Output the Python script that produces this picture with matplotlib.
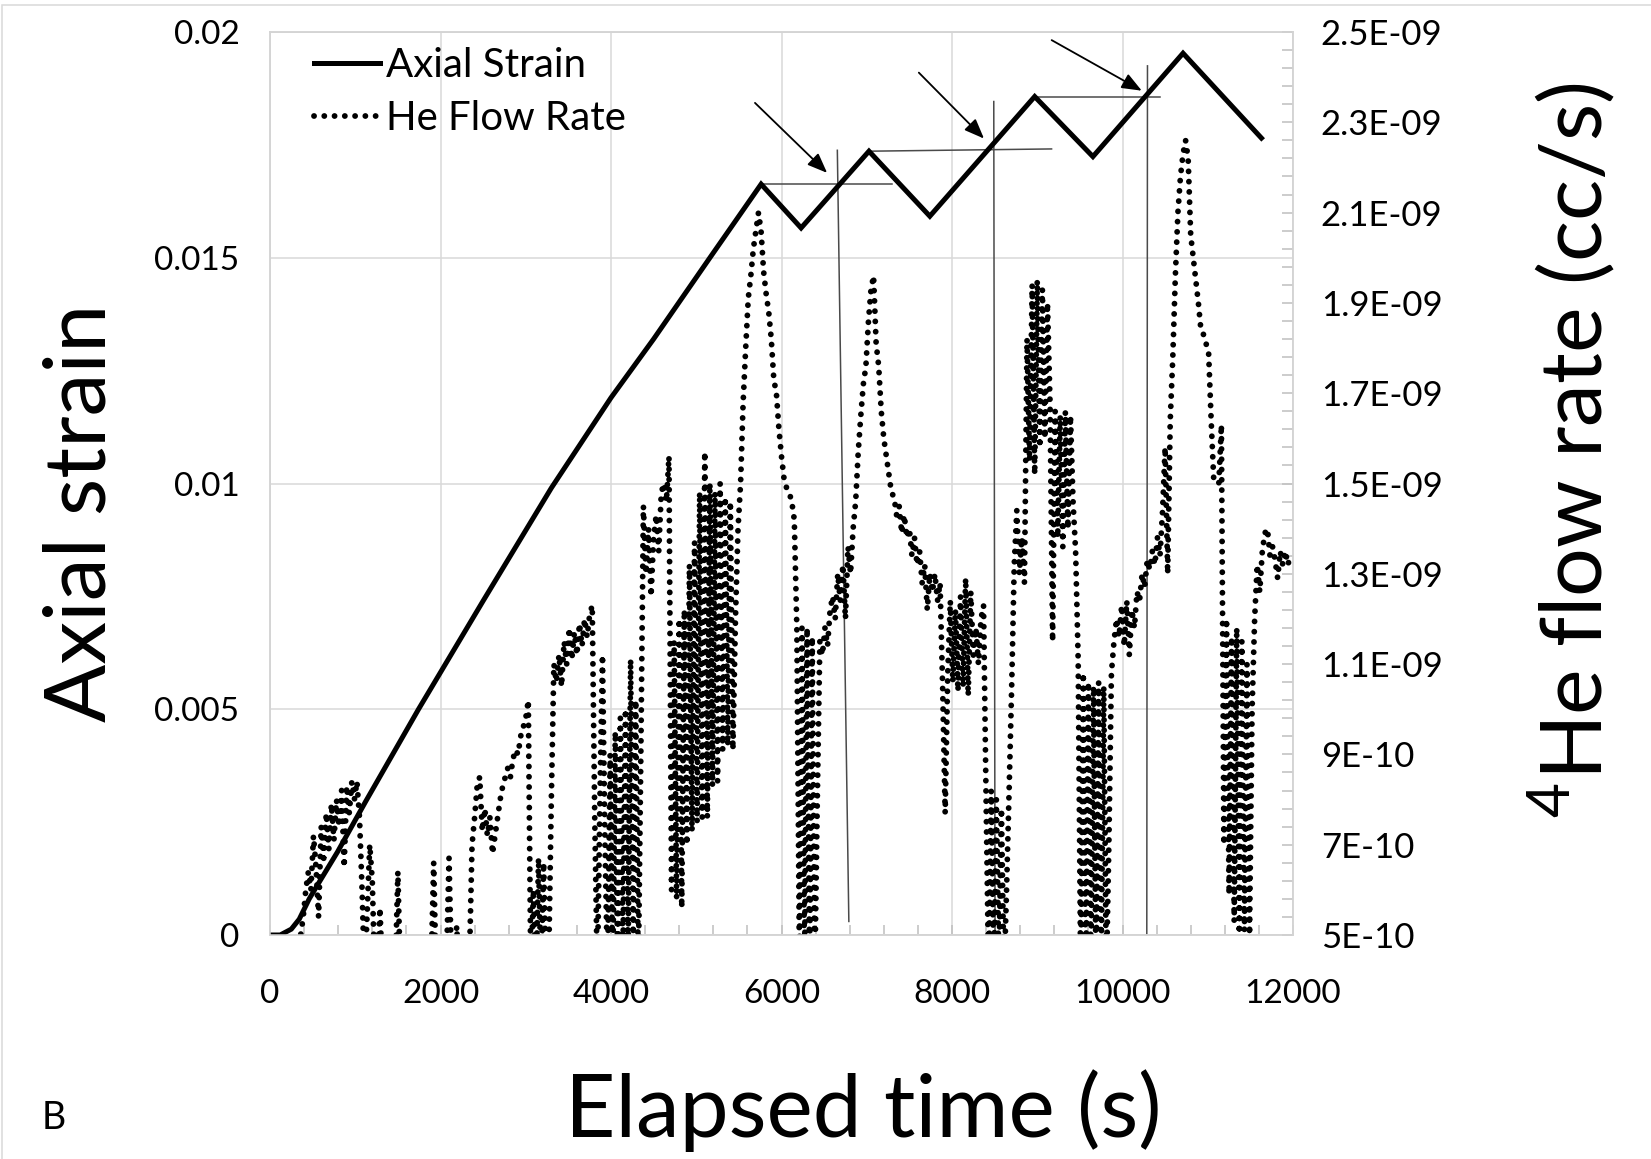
import numpy as np
import matplotlib
matplotlib.use("Agg")
import matplotlib.pyplot as plt
from matplotlib.ticker import FixedLocator, MultipleLocator
from matplotlib.lines import Line2D
from matplotlib.patches import Rectangle

plt.rcParams['font.family'] = ['Lato', 'DejaVu Sans']
plt.rcParams['mathtext.fontset'] = 'custom'
plt.rcParams['mathtext.rm'] = 'Lato'
plt.rcParams['path.simplify'] = False

# axial strain, read at the corners of the loading path
strain_time = [0, 120, 250, 343, 460, 577, 792, 1123, 1742, 2500, 3300, 4000, 4500,
               5160, 5761, 6230, 7026, 7740, 8970, 9653, 10710, 11630]
strain_value = [0, 0, 0.00013, 0.00035, 0.0008, 0.00117, 0.00184, 0.00296, 0.0050,
                0.0074, 0.0099, 0.0119, 0.0132, 0.0150, 0.01663, 0.01566, 0.01736,
                0.01592, 0.01857, 0.01724, 0.01953, 0.01765]

# 4He flow rate in units of 1E-10 cc/s, one reading every 30 s
he_step = 30
he_flow_e10 = [
    4.0, 4.0, 4.0, 4.0, 4.0, 4.0, 4.0, 4.0, 4.0, 4.0,
    4.0, 4.5, 5.0, 5.4, 6.0, 6.4, 6.0, 7.2, 6.5, 5.4,
    7.4, 6.7, 7.7, 6.9, 7.9, 7.1, 8.0, 7.4, 8.2, 6.5,
    8.3, 7.7, 8.4, 8.0, 8.4, 7.6, 6.0, 4.0, 5.5, 7.0,
    6.2, 4.0, 4.2, 5.6, 4.0, 4.0, 4.0, 4.0, 4.0, 4.2,
    6.4, 4.0, 4.0, 4.0, 4.0, 4.0, 4.0, 4.0, 4.0, 4.0,
    4.0, 4.0, 4.0, 4.3, 6.6, 4.0, 4.0, 4.0, 4.0, 4.4,
    6.7, 4.2, 4.0, 5.2, 4.0, 4.0, 4.0, 4.0, 4.5, 7.0,
    7.6, 8.3, 8.5, 7.3, 7.8, 7.2, 7.6, 6.8, 7.2, 7.6,
    8.0, 8.3, 8.5, 8.7, 8.5, 8.9, 9.1, 9.0, 9.4, 9.6,
    9.8, 10.2, 4.0, 6.0, 4.0, 6.7, 4.0, 6.6, 4.0, 4.5,
    8.0, 11.0, 10.6, 11.2, 10.5, 11.5, 11.0, 11.8, 11.1, 11.7,
    11.2, 11.9, 11.4, 12.0, 11.6, 12.1, 12.3, 7.5, 4.0, 8.0,
    11.2, 7.0, 4.0, 9.0, 4.0, 9.5, 4.0, 9.8, 4.5, 10.0,
    4.5, 11.1, 5.0, 10.2, 4.0, 9.0, 14.5, 13.0, 14.0, 12.5,
    13.8, 14.3, 13.5, 14.8, 15.0, 14.6, 15.6, 6.0, 11.5, 5.8,
    12.0, 5.6, 12.2, 7.0, 13.2, 7.3, 13.7, 7.5, 14.8, 7.6,
    15.7, 7.6, 15.0, 8.3, 14.8, 8.4, 15.0, 9.1, 14.7, 9.2,
    14.6, 9.1, 12.0, 14.0, 15.0, 16.8, 18.0, 19.1, 19.6, 20.2,
    20.6, 21.0, 20.6, 19.7, 19.2, 18.8, 18.2, 17.3, 17.0, 16.2,
    15.6, 15.1, 14.9, 14.8, 14.6, 14.2, 11.8, 4.5, 11.8, 4.0,
    11.8, 4.2, 11.6, 4.0, 8.0, 11.5, 11.2, 11.8, 11.4, 12.2,
    12.5, 12.0, 13.0, 12.4, 13.2, 12.0, 13.6, 13.0, 14.0, 14.6,
    15.7, 16.5, 17.2, 17.6, 18.6, 19.3, 19.6, 18.1, 17.6, 16.6,
    16.0, 15.6, 15.2, 14.8, 14.7, 14.3, 14.5, 13.9, 14.3, 13.8,
    14.0, 13.4, 13.8, 13.2, 13.5, 12.8, 13.2, 12.2, 13.0, 12.6,
    13.0, 12.4, 12.8, 10.5, 7.7, 10.8, 12.4, 10.6, 12.2, 10.4,
    12.5, 10.5, 12.9, 10.3, 12.6, 11.2, 11.8, 11.0, 12.0, 12.3,
    8.0, 4.0, 8.2, 4.0, 8.0, 4.2, 7.8, 4.0, 6.0, 8.2,
    10.5, 13.2, 14.4, 13.0, 13.8, 12.8, 18.2, 15.5, 19.4, 15.2,
    19.5, 15.8, 19.3, 16.0, 19.0, 16.8, 11.5, 16.6, 13.8, 16.5,
    13.6, 16.6, 14.0, 16.5, 14.6, 13.5, 11.1, 4.0, 10.8, 4.0,
    10.6, 4.2, 10.5, 4.0, 10.6, 4.2, 10.5, 4.0, 7.0, 10.8,
    11.5, 12.0, 11.6, 12.3, 11.4, 12.4, 11.2, 12.2, 11.8, 12.6,
    12.4, 13.0, 12.7, 13.3, 13.1, 13.5, 13.2, 13.8, 13.4, 14.4,
    15.8, 13.0, 16.4, 17.8, 19.6, 21.0, 21.8, 22.3, 22.6, 22.2,
    20.5, 20.0, 19.5, 19.0, 18.4, 18.3, 18.1, 17.9, 16.4, 15.1,
    15.1, 15.0, 16.3, 7.0, 12.0, 5.9, 11.6, 5.3, 11.8, 4.8,
    11.5, 5.1, 11.0, 5.0, 10.0, 12.0, 13.2, 12.6, 13.5, 13.9,
    14.0, 13.4, 13.6, 13.3, 12.9, 13.5, 13.2, 13.5, 13.2, 13.4,
]
he_time = np.arange(len(he_flow_e10)) * he_step
he_flow = np.array(he_flow_e10) * 1e-10

x_ticks = [0, 2000, 4000, 6000, 8000, 10000, 12000]
strain_ticks = [0, 0.005, 0.01, 0.015, 0.02]
strain_tick_labels = ['0', '0.005', '0.01', '0.015', '0.02']
flow_ticks = [5e-10, 7e-10, 9e-10, 1.1e-9, 1.3e-9, 1.5e-9, 1.7e-9, 1.9e-9, 2.1e-9, 2.3e-9, 2.5e-9]
flow_tick_labels = ['5E-10', '7E-10', '9E-10', '1.1E-09', '1.3E-09', '1.5E-09',
                    '1.7E-09', '1.9E-09', '2.1E-09', '2.3E-09', '2.5E-09']

# hand drawn marks: (time, strain) start and end
level_lines = [(5761, 0.01663, 7300, 0.01663), (7026, 0.01736, 9168, 0.01741),
               (8970, 0.01857, 10442, 0.01857)]
drop_lines = [(6655, 0.01738, 6790, 0.0003), (8490, 0.01846, 8505, 0.0),
              (10293, 0.01925, 10285, 0.0)]
arrows = [(5689, 0.01843, 6535, 0.01688), (7611, 0.0191, 8375, 0.01764),
          (9169, 0.01982, 10226, 0.0187)]

W, H = 1651, 1159
fig = plt.figure(figsize=(W / 100, H / 100), dpi=100)
ax = fig.add_axes([270 / W, 224 / H, 1023 / W, 903 / H])

grey = '#d4d4d4'
dots = (0, (0.01, 1.75))
ax.set_xlim(0, 12000)
ax.set_ylim(0, 0.02)
ax.grid(True, color='#d9d9d9', lw=1.1)
ax.set_axisbelow(True)
for sp in ax.spines.values():
    sp.set_color(grey)
    sp.set_linewidth(1.1)

ax.plot(strain_time, strain_value, color='black', lw=3.6, solid_joinstyle='miter', zorder=3)

for t0, s0, t1, s1 in level_lines + drop_lines:
    ax.plot([t0, t1], [s0, s1], color='#4a4a4a', lw=1.1, zorder=2)
for t0, s0, t1, s1 in arrows:
    ax.annotate('', xy=(t1, s1), xytext=(t0, s0),
                arrowprops=dict(arrowstyle='-|>,head_length=0.55,head_width=0.22',
                                color='black', lw=1.3, mutation_scale=22, shrinkA=0, shrinkB=0))

ax.set_xticks(x_ticks)
ax.set_xticklabels([str(v) for v in x_ticks])
ax.xaxis.set_minor_locator(MultipleLocator(400))
ax.set_yticks(strain_ticks)
ax.set_yticklabels(strain_tick_labels)
ax.tick_params(axis='x', which='both', direction='in', length=7.5, width=1.1, color='#bfbfbf')
ax.tick_params(axis='x', which='major', labelsize=24, pad=32)
ax.tick_params(axis='y', which='both', length=0, labelsize=24, pad=22)

ax2 = ax.twinx()
ax2.set_ylim(5e-10, 2.5e-9)
ax2.plot(he_time, he_flow, color='black', lw=4.2, linestyle=dots, dash_capstyle='round')
for sp in ax2.spines.values():
    sp.set_color(grey)
    sp.set_linewidth(1.1)
ax2.set_yticks(flow_ticks)
ax2.set_yticklabels(flow_tick_labels)
ax2.yaxis.set_minor_locator(FixedLocator(np.linspace(5e-10, 2.5e-9, 51)))
ax2.tick_params(axis='y', which='both', direction='in', length=8, width=1.1, color='#bfbfbf')
ax2.tick_params(axis='y', which='major', labelsize=25, pad=20)

handles = [Line2D([], [], color='black', lw=3.6),
           Line2D([], [], color='black', lw=4.2, linestyle=dots, dash_capstyle='round')]
ax2.legend(handles, ['Axial Strain', 'He Flow Rate'], loc='upper left',
           bbox_to_anchor=(0.043, 0.983), frameon=False, fontsize=29, handlelength=1.65,
           handletextpad=0.15, labelspacing=0.38, borderaxespad=0, borderpad=0)

fig.text(863 / W, 1 - 1137 / H, 'Elapsed time (s)', fontsize=63, ha='center', va='baseline')
fig.text(105 / W, 1 - 513 / H, 'Axial strain', fontsize=62, rotation=90,
         rotation_mode='anchor', ha='center', va='baseline')
fig.text(1603 / W, 1 - 450 / H, r'$^{\mathrm{4}}$He flow rate (cc/s)', fontsize=62,
         rotation=90, rotation_mode='anchor', ha='center', va='baseline')
fig.text(54 / W, 1 - 1118 / H, 'B', fontsize=27, ha='center', va='center')

fig.patches.append(Rectangle((2 / W, -0.01), 1.02, 1.0057, transform=fig.transFigure,
                             fill=False, edgecolor='#d9d9d9', lw=1.1))

fig.savefig('out.png', dpi=100)
